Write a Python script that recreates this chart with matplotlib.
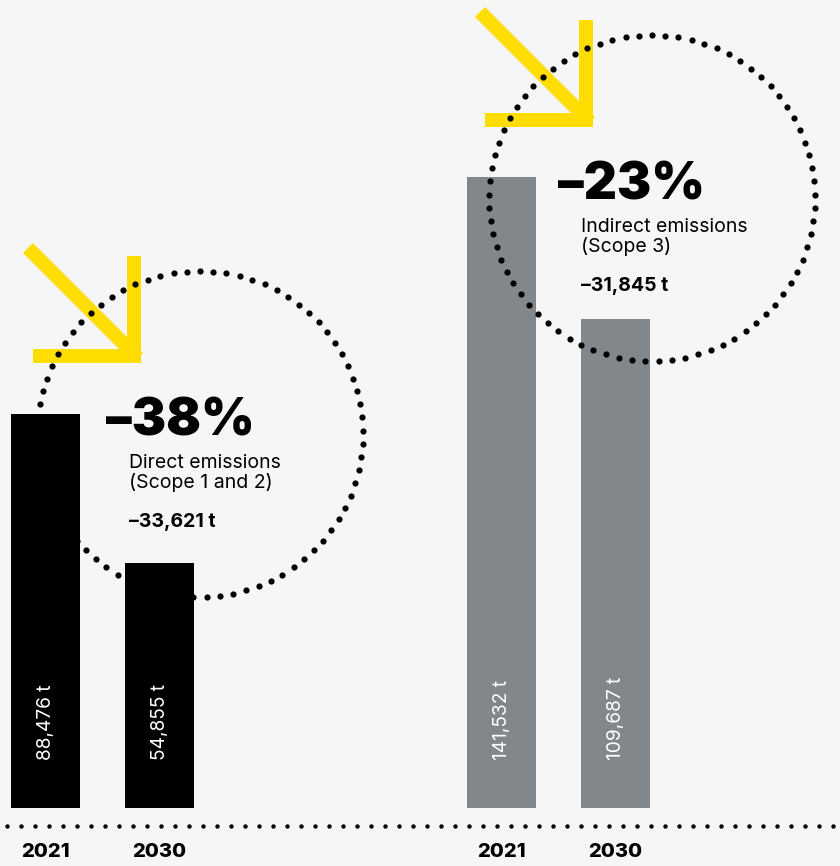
import numpy as np
import matplotlib.pyplot as plt
from matplotlib.patches import Polygon

# ---- data -------------------------------------------------------------
years = ["2021", "2030"]
direct_t = [88476, 54855]      # Scope 1 and 2
indirect_t = [141532, 109687]  # Scope 3
group_titles = [["Direct emissions", "(Scope 1 and 2)"],
                ["Indirect emissions", "(Scope 3)"]]

# ---- style ------------------------------------------------------------
BG = "#f6f6f6"
YELLOW = "#ffdd00"
GRAY = "#82878b"
FONT = "Inter"

W, H = 840, 866
PX = 0.72  # points per pixel at dpi=100

fig = plt.figure(figsize=(W / 100, H / 100), dpi=100, facecolor=BG)

# main axes: bars on a tonne scale, baseline 58 px above the bottom edge
base_px = 58
px_per_t = 631 / 141532
ax = fig.add_axes([0, base_px / H, 1, (H - base_px) / H])
ax.set_facecolor(BG)
ax.set_xlim(0, W)
ax.set_ylim(0, (H - base_px) / px_per_t)
for s in ax.spines.values():
    s.set_visible(False)
ax.set_yticks([])

bar_w = 69
group_left = [11, 467]
step = 114
series = [direct_t, indirect_t]
colors = ["#000000", GRAY]

centers, labels = [], []
for g, vals in enumerate(series):
    xs = [group_left[g] + bar_w / 2 + i * step for i in range(len(vals))]
    ax.bar(xs, vals, width=bar_w, color=colors[g], zorder=2)
    for x, v in zip(xs, vals):
        ax.annotate(f"{v:,} t", xy=(x, 0), xytext=(0, 48 * PX),
                    textcoords="offset points", rotation=90,
                    ha="center", va="bottom", color="white",
                    fontsize=13.8, family=FONT, zorder=3)
    centers += xs
    labels += years

ax.set_xticks(centers, labels)
ax.tick_params(axis="x", length=0, pad=25)
for t in ax.get_xticklabels():
    t.set_fontfamily(FONT)
    t.set_fontweight("heavy")
    t.set_fontsize(14.5)

# ---- overlay in pixel coordinates (y downward) -------------------------
ov = fig.add_axes([0, 0, 1, 1])
ov.set_xlim(0, W)
ov.set_ylim(H, 0)
ov.axis("off")
ov.patch.set_alpha(0)

# dotted baseline
bx = np.arange(7, W + 1, 14)
ov.scatter(bx, np.full_like(bx, 826, dtype=float), s=10, color="black",
           linewidths=0, zorder=5)

# dotted circles, yellow arrows and reduction callouts
circle_centers = [(200, 434), (652, 198)]
r = 163
for g, (cx, cy) in enumerate(circle_centers):
    dx, dy = cx - 200, cy - 434
    # arrow: diagonal shaft plus L-shaped head
    ov.plot([28 + dx, 138 + dx], [248 + dy, 358 + dy], color=YELLOW,
            lw=14 * PX, solid_capstyle="butt", zorder=3)
    head = np.array([(127, 256), (141, 256), (141, 363), (33, 363),
                     (33, 349), (127, 349)], dtype=float) + (dx, dy)
    ov.add_patch(Polygon(head, closed=True, color=YELLOW, lw=0, zorder=3))

    n = 77
    ang = np.pi / 2 + np.arange(n) * 2 * np.pi / n
    ov.scatter(cx + r * np.cos(ang), cy - r * np.sin(ang), s=20,
               color="black", linewidths=0, zorder=5)

    vals = series[g]
    diff = vals[0] - vals[1]
    pct = round(100 * diff / vals[0])
    tx = 106 + dx
    ov.text(tx, 435 + dy, f"–{pct}%", fontsize=37, fontweight="black",
            family=FONT, va="baseline", ha="left", zorder=6)
    for i, line in enumerate(group_titles[g]):
        ov.text(tx + 23, 468 + 20 * i + dy, line, fontsize=14,
                family=FONT, va="baseline", ha="left", zorder=6)
    ov.text(tx + 23, 527 + dy, f"–{diff:,} t", fontsize=14,
            fontweight="bold", family=FONT, va="baseline", ha="left",
            zorder=6)

fig.savefig("out.png", dpi=100, facecolor=BG)
